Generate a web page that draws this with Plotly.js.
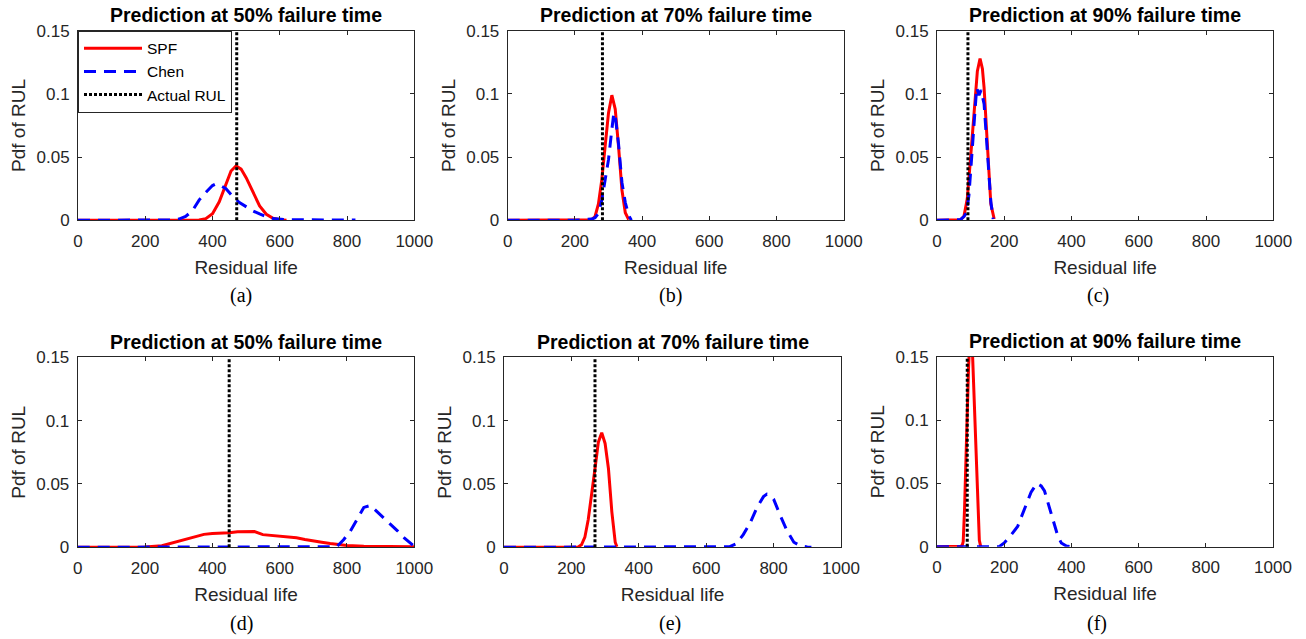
<!DOCTYPE html>
<html>
<head>
<meta charset="utf-8">
<script src="https://cdn.plot.ly/plotly-3.0.1.min.js"></script>
<style>html,body{margin:0;padding:0;background:#fff;}#chart{width:1306px;height:639px;}</style>
</head>
<body>
<div id="chart"></div>
<script>
// ---------------- DATA ----------------
const panelTitles = ["Prediction at 50% failure time","Prediction at 70% failure time","Prediction at 90% failure time",
                     "Prediction at 50% failure time","Prediction at 70% failure time","Prediction at 90% failure time"];
const panelLabels = ["(a)","(b)","(c)","(d)","(e)","(f)"];
const seriesNames = ["SPF","Chen","Actual RUL"];
const xTicks = [0,200,400,600,800,1000];
const yTicks = [0,0.05,0.1,0.15];
const yTickText = ["0","0.05","0.1","0.15"];
const actualRUL = [472,282,92,450,270,90];

// (a)
const spfA_x = [0,50,100,150,200,250,300,340,360,380,400,420,440,455,470,485,500,520,540,560,580,600,620];
const spfA_y = [0,0,0,0,0,0,0,0,0.0002,0.0013,0.0052,0.0146,0.029,0.039,0.043,0.0405,0.0337,0.0219,0.0114,0.0048,0.0016,0.0005,0.0001];
const chenA_x = [0,50,100,150,200,250,280,300,320,340,360,380,400,410,420,440,460,480,500,520,540,560,580,600,620,650,700,750,800,825];
const chenA_y = [0,0,0,0,0,0,0.0003,0.001,0.003,0.0075,0.016,0.022,0.0275,0.0288,0.028,0.025,0.019,0.014,0.0105,0.0075,0.005,0.0028,0.0015,0.0008,0.0005,0.0004,0.0003,0.0002,0.0002,0.0002];
// (b)
const spfB_x = [0,50,100,150,200,250,260,270,280,290,300,310,320,330,340,350,360];
const spfB_y = [0,0,0,0,0,0.0005,0.003,0.013,0.032,0.058,0.085,0.099,0.088,0.058,0.024,0.006,0.0005];
const chenB_x = [0,50,100,150,200,250,260,270,280,290,300,310,316,320,330,340,350,360,368];
const chenB_y = [0,0,0,0,0,0.001,0.002,0.0055,0.016,0.032,0.048,0.072,0.085,0.083,0.060,0.030,0.014,0.004,0];
// (c)
const spfC_x = [0,50,70,80,90,100,110,120,128,135,140,150,160,170];
const spfC_y = [0,0,0.0005,0.003,0.017,0.050,0.085,0.118,0.128,0.120,0.105,0.058,0.013,0.001];
const chenC_x = [0,50,70,80,88,95,100,110,118,125,131,140,150,160,167];
const chenC_y = [0,0,0.0005,0.003,0.006,0.02,0.040,0.078,0.105,0.099,0.103,0.092,0.055,0.015,0.001];
// (d)
const spfD_x = [0,50,100,150,200,250,275,300,325,350,375,400,425,450,475,500,525,550,575,600,625,650,675,700,725,750,775,800,850,900,950,1000];
const spfD_y = [0,0,0,0,0.0002,0.0012,0.003,0.0045,0.0065,0.0085,0.0102,0.0108,0.011,0.0115,0.0122,0.0122,0.0125,0.0100,0.0093,0.0085,0.0082,0.0075,0.0062,0.0048,0.0040,0.0030,0.0022,0.0015,0.0009,0.0007,0.0006,0.0005];
const chenD_x = [0,50,100,150,200,250,300,350,400,450,500,550,600,650,700,750,770,790,810,830,850,870,890,910,930,950,970,990,1000];
const chenD_y = [0,0,0,0,0,0,0,0,0,0,0,0,0,0,0,0,0.0005,0.006,0.0128,0.022,0.0315,0.033,0.028,0.0235,0.0185,0.013,0.0075,0.0025,0.0008];
// (e)
const spfE_x = [0,50,100,150,200,220,230,240,250,260,270,280,290,300,310,320,330,335];
const spfE_y = [0,0,0,0,0,0.0003,0.002,0.008,0.022,0.040,0.062,0.083,0.0905,0.082,0.062,0.028,0.004,0.0005];
const chenE_x = [0,50,100,150,200,250,300,350,400,450,500,550,600,650,670,690,710,730,750,770,780,790,800,820,840,860,880,900,912];
const chenE_y = [0,0,0,0,0,0,0,0,0,0,0,0,0,0,0.0005,0.003,0.010,0.019,0.031,0.040,0.042,0.041,0.038,0.025,0.013,0.004,0.001,0.0003,0];
// (f)
const spfF_x = [0,50,70,75,78,82,86,90,94,98,102,106,110,114,118,122,126,130];
const spfF_y = [0,0,0.0003,0.001,0.004,0.030,0.072,0.110,0.142,0.165,0.170,0.150,0.120,0.088,0.050,0.022,0.005,0.0003];
const chenF_x = [0,50,100,150,185,200,220,240,260,280,297,310,320,330,340,350,360,370,385,398];
const chenF_y = [0,0,0,0,0,0.003,0.009,0.016,0.029,0.043,0.050,0.048,0.044,0.035,0.026,0.017,0.008,0.003,0.0005,0];

const spfX = [spfA_x,spfB_x,spfC_x,spfD_x,spfE_x,spfF_x];
const spfY = [spfA_y,spfB_y,spfC_y,spfD_y,spfE_y,spfF_y];
const chenX = [chenA_x,chenB_x,chenC_x,chenD_x,chenE_x,chenF_x];
const chenY = [chenA_y,chenB_y,chenC_y,chenD_y,chenE_y,chenF_y];

// ---------------- LAYOUT ----------------
const W = 1306, H = 639;
// plot boxes in pixels: [left, right, top, bottom]
const boxes = [[78,414.3,30.7,220.3],[507.7,843.7,30.7,220.3],[937,1273.3,30.7,220.3],
               [77.7,414.3,357.3,547.3],[504,841,357.3,547.3],[937,1273,356.7,546.7]];
const titleY = [15,15,15,341.5,341.5,341];
const labelPos = [[240.7,295],[670,295],[1098,295],[241.7,623],[670,623],[1096.7,623]];

const FONT = "Liberation Sans, Arial, Helvetica, sans-serif";
const SERIF = "Liberation Serif, Times New Roman, serif";
const AX = "#262626";

const traces = [];
const layout = {
  width: W, height: H,
  margin: {l:0,r:0,t:0,b:0},
  paper_bgcolor: "#fff", plot_bgcolor: "#fff",
  font: {family: FONT, color: AX},
  showlegend: true,
  legend: {
    x: 78/W, y: 1-30.7/H, xanchor: "left", yanchor: "top",
    bgcolor: "#fff", bordercolor: AX, borderwidth: 1,
    font: {family: FONT, size: 15.5, color: "#000"},
    itemwidth: 58, tracegroupgap: 0
  },
  annotations: [],
  shapes: []
};

for (let i = 0; i < 6; i++) {
  const b = boxes[i];
  const sfx = i === 0 ? "" : String(i+1);
  const xa = "x" + sfx, ya = "y" + sfx;
  layout["xaxis" + sfx] = {
    domain: [b[0]/W, b[1]/W], anchor: ya, range: [0,1000],
    tickvals: xTicks, ticktext: xTicks.map(String),
    ticks: "inside", ticklen: 4, tickwidth: 1, tickcolor: AX,
    showline: true, linecolor: AX, linewidth: 1, mirror: "ticks",
    showgrid: false, zeroline: false, fixedrange: true,
    ticklabelstandoff: 5,
    tickfont: {family: FONT, size: 17, color: AX},
    title: {text: "Residual life", font: {family: FONT, size: 19, color: AX}, standoff: 10}
  };
  layout["yaxis" + sfx] = {
    domain: [1-b[3]/H, 1-b[2]/H], anchor: xa, range: [0,0.15],
    tickvals: yTicks, ticktext: yTickText,
    ticks: "inside", ticklen: 4, tickwidth: 1, tickcolor: AX,
    showline: true, linecolor: AX, linewidth: 1, mirror: "ticks",
    showgrid: false, zeroline: false, fixedrange: true,
    ticklabelstandoff: 4,
    tickfont: {family: FONT, size: 17, color: AX},
    title: {text: "Pdf of RUL", font: {family: FONT, size: 19, color: AX}, standoff: 5}
  };
  const show = i === 0;
  traces.push({x: spfX[i], y: spfY[i], xaxis: xa, yaxis: ya, type: "scatter", mode: "lines",
    name: seriesNames[0], legendgroup: "spf", showlegend: show,
    line: {color: "rgb(255,0,0)", width: 3}});
  traces.push({x: chenX[i], y: chenY[i], xaxis: xa, yaxis: ya, type: "scatter", mode: "lines",
    name: seriesNames[1], legendgroup: "chen", showlegend: show,
    line: {color: "rgb(0,0,255)", width: 3, dash: "12px,8px"}});
  traces.push({x: [actualRUL[i], actualRUL[i]], y: [yTicks[0], yTicks[3]], xaxis: xa, yaxis: ya, type: "scatter", mode: "lines",
    name: seriesNames[2], legendgroup: "rul", showlegend: show,
    line: {color: "#000", width: 3, dash: "3px,2px"}});

  layout.annotations.push({
    text: "<b>" + panelTitles[i] + "</b>", xref: "paper", yref: "paper",
    x: (b[0]+b[1])/2/W, y: 1-titleY[i]/H, xanchor: "center", yanchor: "middle",
    showarrow: false, font: {family: FONT, size: 19.5, color: "#000"}
  });
  layout.annotations.push({
    text: panelLabels[i], xref: "paper", yref: "paper",
    x: labelPos[i][0]/W, y: 1-labelPos[i][1]/H, xanchor: "center", yanchor: "middle",
    showarrow: false, font: {family: SERIF, size: 20, color: "#000"}
  });
}

Plotly.newPlot("chart", traces, layout, {displayModeBar: false, staticPlot: true});
</script>
</body>
</html>
